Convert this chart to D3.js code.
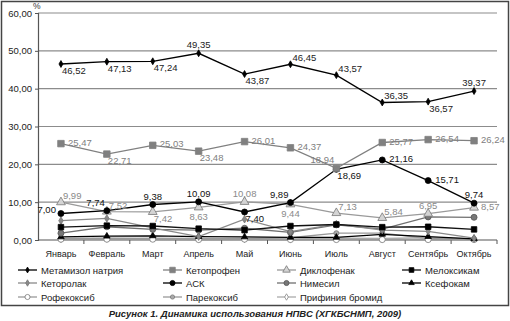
<!DOCTYPE html>
<html><head><meta charset="utf-8">
<script src="https://cdn.jsdelivr.net/npm/d3@7"></script>
<style>
html,body{margin:0;padding:0;background:#fff;}
svg{display:block;font-family:"Liberation Sans",Arial,sans-serif;}
</style></head>
<body>
<svg id="c" width="510" height="321"></svg>
<script>
const months = ["Январь","Февраль","Март","Апрель","Май","Июнь","Июль","Август","Сентябрь","Октябрь"];
const yTicks = [0,10,20,30,40,50,60];

const metamizol = [46.52,47.13,47.24,49.35,43.87,46.45,43.57,36.35,36.57,39.37];
const ketoprofen = [25.47,22.71,25.03,23.48,26.01,24.37,18.94,25.77,26.54,26.24];
const diclofenac = [9.99,7.52,7.42,8.63,10.08,9.44,7.13,5.84,6.95,8.57];
const meloxicam = [3.4,3.8,3.7,3.0,2.6,3.7,4.1,3.4,3.5,2.8];
const ketorolac = [5.1,5.7,3.2,0.9,5.5,2.2,4.2,2.6,2.3,0.5];
const ask = [7.00,7.74,9.38,10.09,7.40,9.89,18.69,21.16,15.71,9.74];
const nimesil = [1.8,3.5,2.8,2.6,3.1,2.0,4.0,2.9,6.1,6.0];
const xefocam = [0.8,1.0,1.1,0.9,0.8,0.7,0.7,1.5,0.9,0.3];
const rofecoxib = [0.2,0.2,0.2,0.1,0.2,0.1,0.1,0.1,0.1,0.1];
const parecoxib = [0.4,0.5,0.3,0.3,0.4,0.6,1.8,1.8,0.4,0.2];
const prifinium = [0.3,0.4,0.5,0.4,0.3,0.3,0.5,0.4,0.6,0.3];

// label placement codes (not data)
const metaPos = ["br","br","br","a","br","ar","ar","ar","br","a"];
const ketoPos = ["rr","br","rr","br","rr","rr","al","rr","rr","rr"];
const dicloPos = ["ar","ar","br","b","a","b","ar","ar","a","rr"];
const askPos = ["l","al","a","a","br","al","br","rr","rr","a"];

const series = [
 {name:"Метамизол натрия", v:metamizol, line:"#000", shape:"diamond", fill:"#000", stroke:"#000", size:5, labels:metaPos, lc:"#222"},
 {name:"Кетопрофен", v:ketoprofen, line:"#808080", shape:"square", fill:"#808080", stroke:"#808080", size:6.5, labels:ketoPos, lc:"#808080"},
 {name:"Диклофенак", v:diclofenac, line:"#9a9a9a", shape:"triangle", fill:"#d4d4d4", stroke:"#777", size:7.5, labels:dicloPos, lc:"#8a8a8a"},
 {name:"Мелоксикам", v:meloxicam, line:"#111", shape:"square", fill:"#000", stroke:"#000", size:5.5},
 {name:"Кеторолак", v:ketorolac, line:"#8a8a8a", shape:"diamond", fill:"#8a8a8a", stroke:"#777", size:5.5},
 {name:"АСК", v:ask, line:"#000", shape:"circle", fill:"#000", stroke:"#000", size:6, labels:askPos, lc:"#111"},
 {name:"Нимесил", v:nimesil, line:"#707070", shape:"circle", fill:"#777", stroke:"#555", size:6},
 {name:"Ксефокам", v:xefocam, line:"#000", shape:"triangle", fill:"#000", stroke:"#000", size:5.5},
 {name:"Рофекоксиб", v:rofecoxib, line:"#999", shape:"circle", fill:"#fff", stroke:"#777", size:6},
 {name:"Парекоксиб", v:parecoxib, line:"#999", shape:"circle", fill:"#aaa", stroke:"#777", size:5},
 {name:"Прифиния бромид", v:prifinium, line:"#aaa", shape:"diamond", fill:"#fff", stroke:"#888", size:5.5}
];

const svg = d3.select("#c");
const L = 38, R = 497, T = 13, B = 240;
const x = d3.scaleBand().domain(months).range([L, R]);
const y = d3.scaleLinear().domain([0,60]).range([B, T]);
const cx = m => x(m) + x.bandwidth()/2;

// frame
svg.append("rect").attr("x",1.5).attr("y",1.5).attr("width",507).attr("height",304)
  .attr("fill","none").attr("stroke","#444").attr("stroke-width",1.5);

// grid
svg.append("g").selectAll("line").data(yTicks.filter(t=>t>0)).join("line")
  .attr("x1",L).attr("x2",R).attr("y1",d=>y(d)).attr("y2",d=>y(d))
  .attr("stroke","#8c8c8c").attr("stroke-width",1.2);

// y axis
const yAxis = d3.axisLeft(y).tickValues(yTicks).tickSize(3).tickPadding(3)
  .tickFormat(d => d3.format(".2f")(d).replace(".",","));
const gy = svg.append("g").attr("transform",`translate(${L},0)`).call(yAxis);
gy.select(".domain").attr("stroke","#555").attr("stroke-width",1.2);
gy.selectAll(".tick line").attr("stroke","#555");
gy.selectAll("text").attr("font-size","9.5px").attr("fill","#222").attr("font-family","Liberation Sans, Arial, sans-serif");

// x axis
const gx = svg.append("g").attr("transform",`translate(0,${B})`);
gx.append("line").attr("x1",L).attr("x2",R).attr("stroke","#555").attr("stroke-width",1.2);
gx.selectAll("line.t").data(months).join("line").attr("class","t")
  .attr("x1",d=>x(d)+x.bandwidth()).attr("x2",d=>x(d)+x.bandwidth()).attr("y1",0).attr("y2",4)
  .attr("stroke","#555");
gx.selectAll("text").data(months).join("text")
  .attr("x",d=>cx(d)).attr("y",17).attr("text-anchor","middle")
  .attr("font-size","9px").attr("fill","#222").text(d=>d);

svg.append("text").attr("x",33).attr("y",9).attr("font-size","8.5px").attr("fill","#333").text("%");

function shapePath(shape, s){
  const sym = {diamond:d3.symbolDiamond, square:d3.symbolSquare, triangle:d3.symbolTriangle, circle:d3.symbolCircle}[shape];
  const areaScale = {diamond:0.55, square:1, triangle:0.6, circle:0.785}[shape];
  return d3.symbol(sym, s*s*areaScale)();
}

const line = d3.line().x((d,i)=>cx(months[i])).y(d=>y(d));
const order = [10,9,8,7,6,4,3,2,5,1,0];
order.forEach(k=>{
  const s = series[k];
  svg.append("path").datum(s.v).attr("d",line).attr("fill","none")
    .attr("stroke",s.line).attr("stroke-width",1.3);
});
order.forEach(k=>{
  const s = series[k];
  svg.append("g").selectAll("path").data(s.v).join("path")
    .attr("transform",(d,i)=>`translate(${cx(months[i])},${y(d)})`)
    .attr("d",shapePath(s.shape,s.size)).attr("fill",s.fill).attr("stroke",s.stroke).attr("stroke-width",0.8);
});

// data labels
const fmt = v => d3.format(".2f")(v).replace(".",",");
series.forEach(s=>{
  if(!s.labels) return;
  svg.append("g").selectAll("text").data(s.v).join("text")
    .each(function(d,i){
      const px = cx(months[i]), py = y(d), p = s.labels[i];
      let dx=0, dy=0, anchor="start";
      if(p==="r"){dx=4;dy=4;}
      else if(p==="rr"){dx=7;dy=2;}
      else if(p==="br"){dx=1;dy=10;}
      else if(p==="ar"){dx=2;dy=-3;}
      else if(p==="a"){dx=0;dy=-5;anchor="middle";}
      else if(p==="b"){dx=0;dy=13;anchor="middle";}
      else if(p==="l"){dx=-5;dy=-1;anchor="end";}
      else if(p==="al"){dx=-2;dy=-5;anchor="end";}
      d3.select(this).attr("x",px+dx).attr("y",py+dy).attr("text-anchor",anchor);
    })
    .attr("font-size","9.5px").attr("fill",s.lc).text(d=>fmt(d));
});

// legend
const cols = [18,163,277,402], rows = [270,283,297];
const lg = svg.append("g");
series.forEach((s,i)=>{
  const c = cols[i%4], r = rows[Math.floor(i/4)];
  const g = lg.append("g").attr("transform",`translate(${c},${r})`);
  g.append("line").attr("x1",0).attr("x2",19).attr("stroke",s.line).attr("stroke-width",1.3);
  g.append("path").attr("transform","translate(9.5,0)").attr("d",shapePath(s.shape,s.size*0.85))
    .attr("fill",s.fill).attr("stroke",s.stroke).attr("stroke-width",0.8);
  g.append("text").attr("x",23).attr("y",3.5).attr("font-size","9.5px").attr("fill","#222").text(s.name);
});

svg.append("text").attr("x",255).attr("y",317).attr("text-anchor","middle")
  .attr("font-size","9.5px").attr("font-weight","bold").attr("font-style","italic").attr("fill","#222")
  .text("Рисунок 1. Динамика использования НПВС (ХГКБСНМП, 2009)");
</script>
</body></html>
